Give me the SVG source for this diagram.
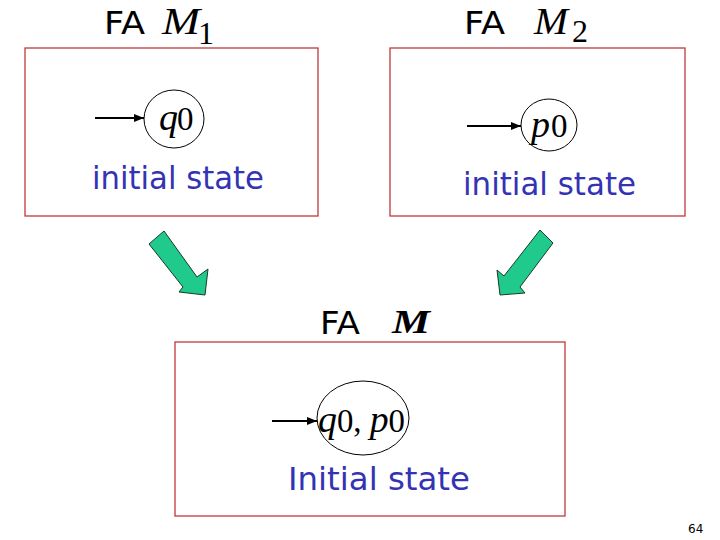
<svg xmlns="http://www.w3.org/2000/svg" width="720" height="540" viewBox="0 0 720 540">
<defs>
<marker id="ah" viewBox="0 0 10 10" refX="10" refY="5" markerWidth="10" markerHeight="10" markerUnits="userSpaceOnUse" orient="auto"><path d="M0,1 L10,5 L0,9 z" fill="#000"/></marker>
<style>
.box{fill:#fff;stroke:#c0393b;stroke-width:1.3}
.st{fill:none;stroke:#000;stroke-width:1}
.fa{font-family:"DejaVu Sans","Liberation Sans",sans-serif;font-size:32px;fill:#000}
.m{font-family:"Liberation Serif",serif;font-style:italic;fill:#000}
.sub{font-family:"Liberation Serif",serif;fill:#000}
.lbl{font-family:"DejaVu Sans","Liberation Sans",sans-serif;font-size:32px;fill:#3333b3}
.ga{fill:#20c98c;stroke:#1a3a2a;stroke-width:1}
.ln{stroke:#000;stroke-width:2;marker-end:url(#ah)}
</style>
</defs>
<rect width="720" height="540" fill="#fff"/>
<g id="m1">
<rect class="box" x="25" y="48" width="293" height="168"/>
<text class="fa" x="104" y="34" textLength="41" lengthAdjust="spacingAndGlyphs">FA</text>
<text class="m" x="162" y="34" font-size="37" textLength="38" lengthAdjust="spacingAndGlyphs">M</text>
<text class="sub" x="198" y="44" font-size="32">1</text>
<ellipse class="st" cx="174" cy="119" rx="30" ry="29"/>
<text class="m" x="159" y="130" font-size="38">q</text>
<text class="sub" x="177" y="130" font-size="33">0</text>
<text class="lbl" x="92" y="189" textLength="172" lengthAdjust="spacingAndGlyphs">initial state</text>
</g>
<g id="m2">
<rect class="box" x="390" y="48" width="295" height="168"/>
<text class="fa" x="464" y="34" textLength="41" lengthAdjust="spacingAndGlyphs">FA</text>
<text class="m" x="534" y="34" font-size="37" textLength="34" lengthAdjust="spacingAndGlyphs">M</text>
<text class="sub" x="572" y="42" font-size="32">2</text>
<ellipse class="st" cx="549" cy="125" rx="28" ry="26"/>
<text class="m" x="531" y="137" font-size="38">p</text>
<text class="sub" x="551" y="137" font-size="33">0</text>
<text class="lbl" x="463" y="195" textLength="173" lengthAdjust="spacingAndGlyphs">initial state</text>
</g>
<g id="m">
<rect class="box" x="175" y="342" width="390" height="174"/>
<text class="fa" x="320" y="334" textLength="40" lengthAdjust="spacingAndGlyphs">FA</text>
<text class="m" x="392" y="333" font-size="34" font-weight="bold" textLength="38" lengthAdjust="spacingAndGlyphs">M</text>
<ellipse class="st" cx="363" cy="418" rx="46" ry="37"/>
<text x="318" y="432" textLength="87" lengthAdjust="spacingAndGlyphs"><tspan class="m" font-size="38">q</tspan><tspan class="sub" font-size="33">0</tspan><tspan class="sub" font-size="33">, </tspan><tspan class="m" font-size="38">p</tspan><tspan class="sub" font-size="33">0</tspan></text>
<text class="lbl" x="288" y="490" textLength="182" lengthAdjust="spacingAndGlyphs">Initial state</text>
</g>
<g id="connectors">
<line class="ln" x1="95" y1="118" x2="144" y2="118"/>
<line class="ln" x1="467" y1="126" x2="521" y2="126"/>
<line class="ln" x1="272" y1="421" x2="317" y2="421"/>
<polygon class="ga" points="149,244 164,231 197,277 208,269 205,295 179,292 183,287"/>
<polygon class="ga" points="540,230 553,243 520,287 525,293 500,295 497,270 504,276"/>
</g>
<text x="688" y="533" font-family="DejaVu Sans, sans-serif" font-size="12" fill="#000">64</text>
</svg>
